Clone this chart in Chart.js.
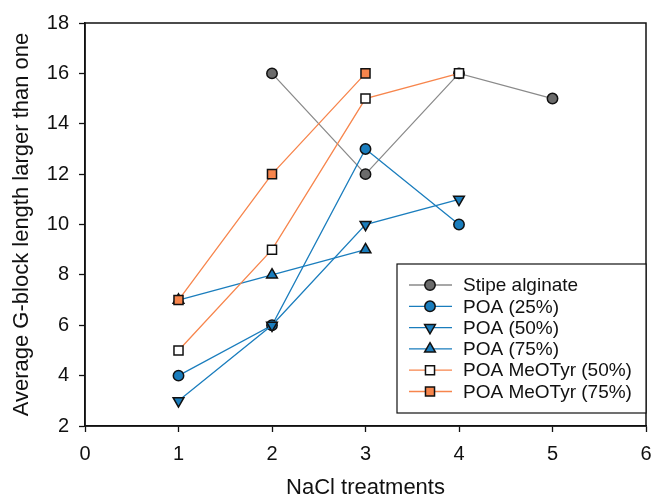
<!DOCTYPE html>
<html>
<head>
<meta charset="utf-8">
<script src="https://cdn.jsdelivr.net/npm/chart.js@4/dist/chart.umd.min.js"></script>
<style>
  html, body { margin: 0; padding: 0; background: #fff; }
  #wrap { width: 651px; height: 497px; }
</style>
</head>
<body>
<div id="wrap"><canvas id="gblockChart"></canvas></div>
<script>
// NaCl treatment vs. average G-block length

const seriesNames = ["Stipe alginate", "POA (25%)", "POA (50%)", "POA (75%)", "POA MeOTyr (50%)", "POA MeOTyr (75%)"];

const stipeX    = [2, 3, 4, 5];
const stipeY    = [16, 12, 16, 15];
const poa25X    = [1, 2, 3, 4];
const poa25Y    = [4, 6, 13, 10];
const poa50X    = [1, 2, 3, 4];
const poa50Y    = [3, 6, 10, 11];
const poa75X    = [1, 2, 3];
const poa75Y    = [7, 8, 9];
const meo50X    = [1, 2, 3, 4];
const meo50Y    = [5, 9, 15, 16];
const meo75X    = [1, 2, 3];
const meo75Y    = [7, 12, 16];

const xTicks = [0, 1, 2, 3, 4, 5, 6];
const yTicks = [2, 4, 6, 8, 10, 12, 14, 16, 18];

const GREY   = "#8a8a8a";
const BLUE   = "#1a7dbd";
const ORANGE = "#f7854c";
const FONT   = "'Liberation Sans', Arial, sans-serif";

function pts(xs, ys) {
  return xs.map((x, i) => ({ x: x, y: ys[i] }));
}

function makeSet(idx, xs, ys, line, fill, style, rot, r) {
  return {
    label:            seriesNames[idx],
    data:             pts(xs, ys),
    borderColor:      line,
    backgroundColor:  fill,
    borderWidth:      1.3,
    pointStyle:       style,
    rotation:         rot,
    pointRadius:      r,
    pointBorderColor: "#111",
    pointBackgroundColor: fill,
    pointBorderWidth: 1.5,
    tension:          0,
    fill:             false,
    order:            6 - idx,
  };
}

const datasets = [
  makeSet(0, stipeX, stipeY, GREY,   "#6b6b6b", "circle",   0,   5.2),
  makeSet(1, poa25X, poa25Y, BLUE,   BLUE,      "circle",   0,   5.2),
  makeSet(2, poa50X, poa50Y, BLUE,   BLUE,      "triangle", 180, 6.2),
  makeSet(3, poa75X, poa75Y, BLUE,   BLUE,      "triangle", 0,   6.2),
  makeSet(4, meo50X, meo50Y, ORANGE, "#ffffff", "rect",     0,   6.4),
  makeSet(5, meo75X, meo75Y, ORANGE, ORANGE,    "rect",     0,   6.4),
];

// frame around the plot + boxed legend inside the lower right
const framePlugin = {
  id: "frameAndLegend",
  afterDraw(chart) {
    const ctx = chart.ctx;
    const a = chart.chartArea;
    ctx.save();
    ctx.strokeStyle = "#111";
    ctx.lineWidth = 1.5;
    ctx.strokeRect(a.left, a.top, a.right - a.left, a.bottom - a.top);

    const bx = 397, by = 264, bw = a.right - 397, bh = 149;
    ctx.fillStyle = "#fff";
    ctx.fillRect(bx, by, bw, bh);
    ctx.lineWidth = 1.2;
    ctx.strokeRect(bx, by, bw, bh);

    ctx.font = "19px " + FONT;
    ctx.textBaseline = "middle";
    ctx.textAlign = "left";
    datasets.forEach((ds, i) => {
      const y = 285 + i * 21.3;
      ctx.strokeStyle = ds.borderColor;
      ctx.lineWidth = 1.3;
      ctx.beginPath();
      ctx.moveTo(409, y);
      ctx.lineTo(452, y);
      ctx.stroke();
      ctx.fillStyle = ds.pointBackgroundColor;
      ctx.strokeStyle = ds.pointBorderColor;
      ctx.lineWidth = ds.pointBorderWidth;
      Chart.helpers.drawPoint(ctx, {
        pointStyle: ds.pointStyle,
        rotation: ds.rotation,
        radius: ds.pointRadius,
        borderWidth: ds.pointBorderWidth,
      }, 430, y);
      ctx.fillStyle = "#111";
      ctx.fillText(ds.label, 463, y + 1);
    });
    ctx.restore();
  }
};

const tickFont  = { family: FONT, size: 20 };
const titleFont = { family: FONT, size: 22, lineHeight: 0.8 };

new Chart(document.getElementById("gblockChart"), {
  type: "line",
  data: { datasets: datasets },
  options: {
    responsive:          true,
    maintainAspectRatio: false,
    animation:           false,
    layout: { autoPadding: false, padding: { top: 23, right: 5, left: 0, bottom: 0 } },
    plugins: { legend: { display: false }, tooltip: { enabled: false } },
    scales: {
      x: {
        type: "linear",
        min: 0, max: 6,
        afterBuildTicks: (s) => { s.ticks = xTicks.map(v => ({ value: v })); },
        afterFit: (s) => { s.height = 71; s.paddingRight = 0; s.paddingLeft = 0; },
        grid: { drawOnChartArea: false, tickLength: 6, tickColor: "#111", tickWidth: 1.3 },
        border: { color: "#111", width: 1.5 },
        ticks: { font: tickFont, color: "#111", padding: 10, maxRotation: 0 },
        title: { display: true, text: "NaCl treatments", color: "#111",
                 font: titleFont, padding: { top: 0, bottom: 0 } },
      },
      y: {
        min: 2, max: 18,
        afterBuildTicks: (s) => { s.ticks = yTicks.map(v => ({ value: v })); },
        afterFit: (s) => { s.width = 85; s.paddingTop = 0; s.paddingBottom = 0; },
        grid: { drawOnChartArea: false, tickLength: 6, tickColor: "#111", tickWidth: 1.3 },
        border: { color: "#111", width: 1.5 },
        ticks: { font: tickFont, color: "#111", padding: 10 },
        title: { display: true, text: "Average G-block length larger than one", color: "#111",
                 font: { family: FONT, size: 22, lineHeight: 1 }, padding: { top: 11, bottom: 0 } },
      },
    }
  },
  plugins: [framePlugin]
});
</script>
</body>
</html>
